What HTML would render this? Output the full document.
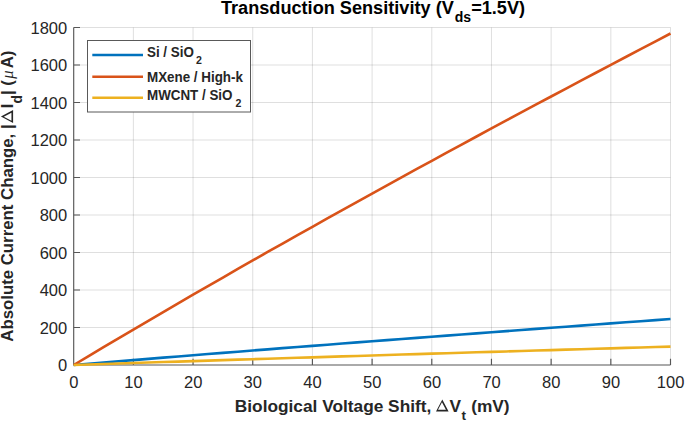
<!DOCTYPE html>
<html><head><meta charset="utf-8"><style>
html,body{margin:0;padding:0;background:#fff;width:685px;height:421px;overflow:hidden}
svg{display:block}
text{font-family:"Liberation Sans",sans-serif;fill:#262626}
.t{font-size:16.5px}
.b{font-weight:bold;fill:#000}
.lb{font-weight:bold;fill:#262626}
</style></head><body>
<svg width="685" height="421" viewBox="0 0 685 421">
<rect width="685" height="421" fill="#fff"/>
<g stroke="#262626" stroke-opacity="0.15" stroke-width="1" fill="none"><path d="M133.38 27.5V365.0M193.06 27.5V365.0M252.74 27.5V365.0M312.42 27.5V365.0M372.10 27.5V365.0M431.78 27.5V365.0M491.46 27.5V365.0M551.14 27.5V365.0M610.82 27.5V365.0M670.50 27.5V365.0"/><path d="M73.7 327.50H670.5M73.7 290.00H670.5M73.7 252.50H670.5M73.7 215.00H670.5M73.7 177.50H670.5M73.7 140.00H670.5M73.7 102.50H670.5M73.7 65.00H670.5M73.7 27.50H670.5"/></g>
<g stroke="#575757" stroke-width="1.15" fill="none"><path d="M73.7 27.5V365.0H670.5"/><path d="M133.38 365.0v-6.3M193.06 365.0v-6.3M252.74 365.0v-6.3M312.42 365.0v-6.3M372.10 365.0v-6.3M431.78 365.0v-6.3M491.46 365.0v-6.3M551.14 365.0v-6.3M610.82 365.0v-6.3M670.50 365.0v-6.3M73.7 327.50h6.3M73.7 290.00h6.3M73.7 252.50h6.3M73.7 215.00h6.3M73.7 177.50h6.3M73.7 140.00h6.3M73.7 102.50h6.3M73.7 65.00h6.3M73.7 27.50h6.3"/></g>
<g fill="none" stroke-width="2.6" stroke-linejoin="round">
<path d="M73.70 365.00L88.62 363.76L103.54 362.53L118.46 361.31L133.38 360.09L148.30 358.87L163.22 357.66L178.14 356.46L193.06 355.26L207.98 354.07L222.90 352.88L237.82 351.69L252.74 350.51L267.66 349.34L282.58 348.17L297.50 347.00L312.42 345.84L327.34 344.69L342.26 343.53L357.18 342.39L372.10 341.24L387.02 340.10L401.94 338.96L416.86 337.83L431.78 336.70L446.70 335.58L461.62 334.45L476.54 333.34L491.46 332.22L506.38 331.11L521.30 330.00L536.22 328.89L551.14 327.79L566.06 326.69L580.98 325.59L595.90 324.50L610.82 323.41L625.74 322.32L640.66 321.23L655.58 320.14L670.50 319.06" stroke="#0072BD"/>
<path d="M73.70 365.00L88.62 356.08L103.54 347.19L118.46 338.35L133.38 329.55L148.30 320.78L163.22 312.06L178.14 303.37L193.06 294.72L207.98 286.10L222.90 277.53L237.82 268.98L252.74 260.47L267.66 251.99L282.58 243.55L297.50 235.14L312.42 226.76L327.34 218.41L342.26 210.09L357.18 201.81L372.10 193.55L387.02 185.32L401.94 177.12L416.86 168.94L431.78 160.79L446.70 152.67L461.62 144.57L476.54 136.50L491.46 128.45L506.38 120.43L521.30 112.42L536.22 104.44L551.14 96.48L566.06 88.54L580.98 80.63L595.90 72.73L610.82 64.85L625.74 56.98L640.66 49.14L655.58 41.31L670.50 33.50" stroke="#D95319"/>
<path d="M73.70 365.00L88.62 364.50L103.54 364.01L118.46 363.52L133.38 363.03L148.30 362.55L163.22 362.06L178.14 361.58L193.06 361.10L207.98 360.62L222.90 360.15L237.82 359.67L252.74 359.20L267.66 358.73L282.58 358.26L297.50 357.79L312.42 357.33L327.34 356.87L342.26 356.40L357.18 355.95L372.10 355.49L387.02 355.03L401.94 354.57L416.86 354.12L431.78 353.67L446.70 353.22L461.62 352.77L476.54 352.32L491.46 351.87L506.38 351.43L521.30 350.99L536.22 350.54L551.14 350.10L566.06 349.66L580.98 349.22L595.90 348.78L610.82 348.35L625.74 347.91L640.66 347.47L655.58 347.04L670.50 346.61" stroke="#EDB120"/>
</g>
<g class="t" text-anchor="end">
<text x="67.2" y="371.2">0</text>
<text x="67.2" y="333.7">200</text>
<text x="67.2" y="296.2">400</text>
<text x="67.2" y="258.7">600</text>
<text x="67.2" y="221.2">800</text>
<text x="67.2" y="183.7">1000</text>
<text x="67.2" y="146.2">1200</text>
<text x="67.2" y="108.7">1400</text>
<text x="67.2" y="71.2">1600</text>
<text x="67.2" y="33.7">1800</text>
</g><g class="t" text-anchor="middle">
<text x="73.8" y="388.3">0</text>
<text x="133.5" y="388.3">10</text>
<text x="193.2" y="388.3">20</text>
<text x="252.8" y="388.3">30</text>
<text x="312.5" y="388.3">40</text>
<text x="372.2" y="388.3">50</text>
<text x="431.9" y="388.3">60</text>
<text x="491.6" y="388.3">70</text>
<text x="551.2" y="388.3">80</text>
<text x="610.9" y="388.3">90</text>
<text x="670.6" y="388.3">100</text>
</g>
<!-- title -->
<text class="b" x="373" y="13.8" text-anchor="middle" font-size="18.15">Transduction Sensitivity (V<tspan font-size="14" dy="8" dx="1">ds</tspan><tspan dy="-8">=1.5V)</tspan></text>
<!-- xlabel -->
<text class="lb" x="234.8" y="411.6" font-size="17.3">Biological Voltage Shift, <tspan dx="13.3">V</tspan><tspan font-size="13.5" dy="8" dx="0.6">t</tspan><tspan dy="-8" dx="0.3"> (mV)</tspan></text>
<path d="M442.30 399.60L448.60 411.40L436.00 411.40ZM441.96 402.36L437.99 409.80L445.93 409.80Z" fill="#262626" fill-rule="evenodd"/>
<!-- ylabel -->
<g transform="translate(12.7 341.7) rotate(-90)">
<text class="lb" y="0" font-size="16.8"><tspan x="0">Absolute Current Change, |</tspan><tspan x="233.5">I</tspan><tspan x="238.2" y="8.9" font-size="13.8">d</tspan><tspan x="246.6" y="0">| (</tspan><tspan x="263" font-style="italic" font-weight="normal" font-family="Liberation Serif">μ</tspan><tspan x="273.4">A)</tspan></text>
<path transform="translate(225.3 0.6) scale(1.03)" d="M0.00 -12.00L6.30 -0.20L-6.30 -0.20ZM-0.34 -9.24L-4.31 -1.80L3.63 -1.80Z" fill="#262626" fill-rule="evenodd"/>
</g>
<!-- legend -->
<rect x="87.5" y="40.5" width="163" height="71.5" fill="#fff" stroke="#595959" stroke-width="1"/>
<g stroke-width="2.6">
<path d="M92.3 55H143" stroke="#0072BD"/>
<path d="M92.3 76.8H143" stroke="#D95319"/>
<path d="M92.3 97.8H143" stroke="#EDB120"/>
</g>
<g class="b" font-size="13.4">
<text transform="translate(147 56.7) scale(1 1.07)">Si / SiO<tspan font-size="10.6" dy="6.8" dx="2.2">2</tspan></text>
<text transform="translate(147 81.6) scale(1 1.07)">MXene / High-k</text>
<text transform="translate(147 100.2) scale(1 1.07)">MWCNT / SiO<tspan font-size="10.6" dy="6.8" dx="3">2</tspan></text>
</g>
</svg>
</body></html>
